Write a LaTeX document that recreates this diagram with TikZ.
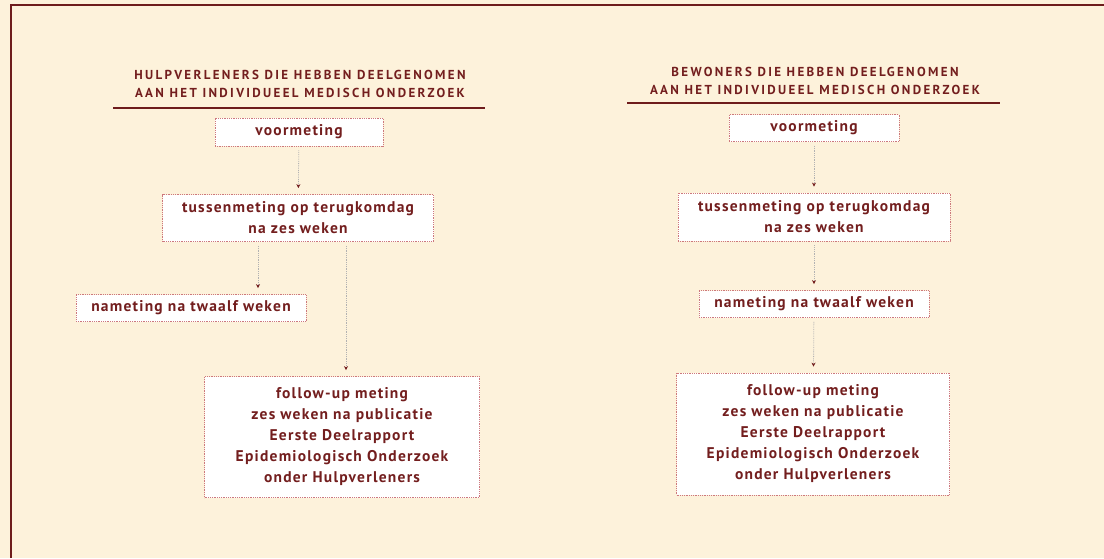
\documentclass[tikz,border=0pt]{standalone}
\usepackage{fontspec}
\setmainfont{PT Sans}[LetterSpace=8]
\newfontfamily\capsfont{PT Sans}[LetterSpace=18]
\usetikzlibrary{arrows.meta, positioning, calc}
\definecolor{bgcream}{RGB}{253, 242, 219}
\definecolor{framered}{RGB}{110, 28, 28}
\definecolor{textred}{RGB}{115, 30, 30}
\definecolor{dotred}{RGB}{205, 120, 125}
\tikzset{
  stepbox/.style={draw=dotred, densely dotted, fill=white, line width=0.8pt, inner sep=2pt,
    font=\fontsize{15.5}{21}\selectfont\bfseries, text=textred, align=center},
  headnode/.style={font=\capsfont\fontsize{13}{18.5}\selectfont\bfseries, text=textred, align=center},
  flowarrow/.style={-{Stealth[length=4pt,width=4pt,color=textred]}, draw=gray!60,
    densely dotted, line width=0.8pt, shorten <=4pt, shorten >=6pt},
  headrule/.style={draw=framered, line width=1.4pt},
}
\begin{document}
\begin{tikzpicture}[x=1pt, y=-1pt]
  \useasboundingbox[fill=bgcream] (0,0) rectangle (1104,558);
  \draw[framered, line width=1.5pt] (11,558) -- (11,5) -- (1104,5);

  % hulpverleners
  \node[headnode] (lhead) at (300,84) {HULPVERLENERS DIE HEBBEN DEELGENOMEN\\AAN HET INDIVIDUEEL MEDISCH ONDERZOEK};
  \coordinate (lrulea) at (113,108);
  \coordinate (lruleb) at (485,108);
  \draw[headrule] (lrulea) -- (lruleb);
  \node[stepbox, minimum width=168pt, minimum height=28pt] (lvm) at (299,132) {voormeting};
  \node[stepbox, minimum width=271pt, minimum height=47pt] (ltm) at (298,218) {tussenmeting op terugkomdag\\na zes weken};
  \node[stepbox, minimum width=230pt, minimum height=27pt] (lnm) at (191,308) {nameting na twaalf weken};
  \node[stepbox, minimum width=275pt, minimum height=121pt] (lfu) at (342,437) {follow-up meting\\zes weken na publicatie\\Eerste Deelrapport\\Epidemiologisch Onderzoek\\onder Hulpverleners};
  \draw[flowarrow] (lvm) -- (ltm);
  \draw[flowarrow] (ltm.south -| 258,0) -- (lnm.north -| 258,0);
  \draw[flowarrow] (ltm.south -| 346,0) -- (lfu.north -| 346,0);

  % bewoners
  \node[headnode] (rhead) at (815,81) {BEWONERS DIE HEBBEN DEELGENOMEN\\AAN HET INDIVIDUEEL MEDISCH ONDERZOEK};
  \coordinate (rrulea) at (627,103);
  \coordinate (rruleb) at (1000,103);
  \draw[headrule] (rrulea) -- (rruleb);
  \node[stepbox, minimum width=170pt, minimum height=27pt] (rvm) at (814,128) {voormeting};
  \node[stepbox, minimum width=272pt, minimum height=48pt] (rtm) at (814,217) {tussenmeting op terugkomdag\\na zes weken};
  \node[stepbox, minimum width=230pt, minimum height=27pt] (rnm) at (814,304) {nameting na twaalf weken};
  \node[stepbox, minimum width=273pt, minimum height=122pt] (rfu) at (813,434) {follow-up meting\\zes weken na publicatie\\Eerste Deelrapport\\Epidemiologisch Onderzoek\\onder Hulpverleners};
  \foreach \i/\j in {rvm/rtm,rtm/rnm,rnm/rfu} \draw[flowarrow] (\i) -- (\j);
\end{tikzpicture}
\end{document}
